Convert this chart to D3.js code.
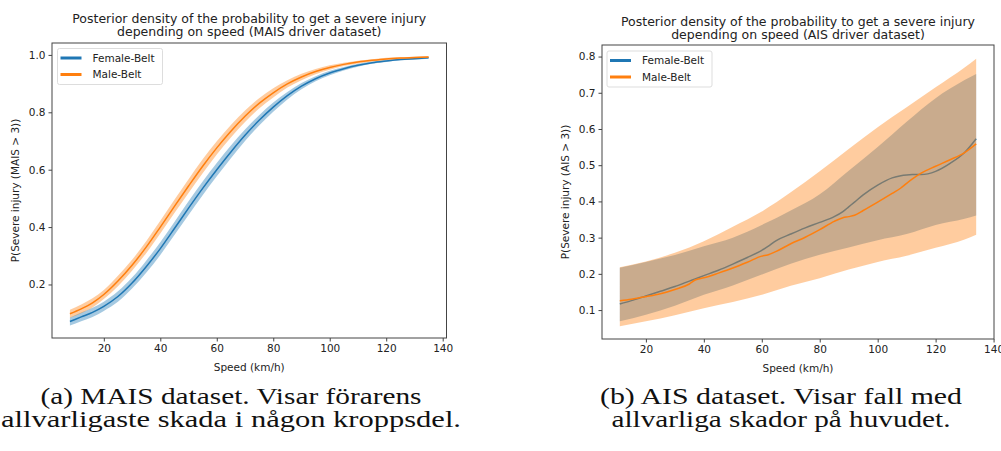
<!DOCTYPE html>
<html>
<head>
<meta charset="utf-8">
<script src="https://cdn.jsdelivr.net/npm/d3@7"></script>
<style>
    body { margin: 0; background: #fff; }
    svg { display: block; font-family: 'DejaVu Sans', sans-serif; }
    .caption { font-family: 'Liberation Serif', 'DejaVu Serif', serif; }
</style>
</head>
<body>
<svg width="1001" height="451"></svg>
<script>
// (a) MAIS dataset
const maisSpeed = [8, 12, 16, 20, 25, 30, 35, 40, 45, 50, 55, 60, 65, 70, 75, 80, 85, 90, 95, 100, 105, 110, 115, 120, 125, 130, 135]
const femaleMais = [0.071, 0.087, 0.103, 0.124, 0.158, 0.205, 0.262, 0.325, 0.395, 0.466, 0.535, 0.600, 0.662, 0.720, 0.772, 0.818, 0.858, 0.891, 0.917, 0.937, 0.952, 0.964, 0.973, 0.979, 0.984, 0.987, 0.990]
const maleMais = [0.098, 0.115, 0.136, 0.165, 0.212, 0.267, 0.330, 0.400, 0.472, 0.543, 0.612, 0.676, 0.734, 0.786, 0.831, 0.868, 0.899, 0.923, 0.942, 0.956, 0.967, 0.975, 0.981, 0.986, 0.989, 0.991, 0.993]
const maisSpread = [0.014, 0.015, 0.016, 0.016, 0.018, 0.019, 0.021, 0.022, 0.023, 0.024, 0.024, 0.023, 0.022, 0.020, 0.018, 0.016, 0.013, 0.011, 0.009, 0.008, 0.006, 0.005, 0.004, 0.004, 0.003, 0.003, 0.003]

// (b) AIS dataset
const aisSpeed = [11, 15, 20, 25, 30, 35, 37, 40, 45, 50, 55, 60, 62, 65, 70, 75, 80, 85, 88, 90, 92, 95, 100, 105, 108, 110, 112, 115, 120, 125, 130, 134]
const femaleAis = [0.117, 0.126, 0.139, 0.152, 0.165, 0.180, 0.186, 0.195, 0.210, 0.227, 0.245, 0.265, 0.275, 0.292, 0.310, 0.327, 0.342, 0.358, 0.372, 0.385, 0.398, 0.418, 0.445, 0.465, 0.471, 0.473, 0.474, 0.474, 0.483, 0.505, 0.535, 0.573]
const maleAis = [0.126, 0.130, 0.137, 0.145, 0.157, 0.172, 0.183, 0.189, 0.202, 0.216, 0.232, 0.249, 0.252, 0.262, 0.283, 0.301, 0.322, 0.345, 0.355, 0.358, 0.362, 0.375, 0.398, 0.422, 0.437, 0.450, 0.462, 0.478, 0.497, 0.515, 0.535, 0.559]
const aisBandSpeed = [11, 20, 30, 40, 50, 60, 70, 80, 90, 100, 110, 120, 130, 134]
const femaleAisLow = [0.069, 0.087, 0.112, 0.142, 0.168, 0.198, 0.228, 0.253, 0.273, 0.293, 0.310, 0.335, 0.352, 0.361]
const femaleAisHigh = [0.217, 0.233, 0.252, 0.276, 0.300, 0.335, 0.375, 0.420, 0.485, 0.550, 0.620, 0.685, 0.735, 0.752]
const maleAisLow = [0.055, 0.069, 0.086, 0.105, 0.122, 0.142, 0.167, 0.188, 0.212, 0.233, 0.250, 0.272, 0.295, 0.308]
const maleAisHigh = [0.218, 0.234, 0.258, 0.290, 0.330, 0.372, 0.425, 0.483, 0.545, 0.605, 0.660, 0.715, 0.770, 0.794]

const seriesNames = ['Female-Belt', 'Male-Belt']
const xTicks = [20, 40, 60, 80, 100, 120, 140]
const maisYTicks = [0.2, 0.4, 0.6, 0.8, 1.0]
const aisYTicks = [0.1, 0.2, 0.3, 0.4, 0.5, 0.6, 0.7, 0.8]

const colors = d3.scaleOrdinal().domain(seriesNames).range(['#1f77b4', '#ff7f0e'])
const svg = d3.select('svg')

const panels = [
    {
        title: ['Posterior density of the probability to get a severe injury', 'depending on speed (MAIS driver dataset)'],
        yLabel: 'P(Severe injury (MAIS > 3))',
        xDomain: [1.65, 141.35], xRange: [52, 446.5],
        yDomain: [0.0135, 1.0415], yRange: [338, 43],
        yTicks: maisYTicks,
        yLabelX: 15,
        titleY: 23,
        bands: [
            { name: 'Female-Belt', speed: maisSpeed, low: femaleMais.map((d, i) => d - maisSpread[i]), high: femaleMais.map((d, i) => d + maisSpread[i]) },
            { name: 'Male-Belt', speed: maisSpeed, low: maleMais.map((d, i) => d - maisSpread[i]), high: maleMais.map((d, i) => d + maisSpread[i]) },
        ],
        lines: [
            { name: 'Female-Belt', speed: maisSpeed, values: femaleMais },
            { name: 'Male-Belt', speed: maisSpeed, values: maleMais },
        ],
        legend: { x: 57.5, y: 48.5, w: 105, h: 36 },
        caption: ['(a) MAIS dataset. Visar förarens', 'allvarligaste skada i någon kroppsdel.'],
        captionWidth: [381, 460],
        captionX: 231,
    },
    {
        title: ['Posterior density of the probability to get a severe injury', 'depending on speed (AIS driver dataset)'],
        yLabel: 'P(Severe injury (AIS > 3))',
        xDomain: [4.85, 140.15], xRange: [602, 994],
        yDomain: [0.0201, 0.8319], yRange: [339, 45],
        yTicks: aisYTicks,
        yLabelX: 565,
        titleY: 26,
        bands: [
            { name: 'Female-Belt', speed: aisBandSpeed, low: femaleAisLow, high: femaleAisHigh },
            { name: 'Male-Belt', speed: aisBandSpeed, low: maleAisLow, high: maleAisHigh },
        ],
        lines: [
            { name: 'Female-Belt', speed: aisSpeed, values: femaleAis },
            { name: 'Male-Belt', speed: aisSpeed, values: maleAis },
        ],
        legend: { x: 607, y: 51, w: 105, h: 36 },
        caption: ['(b) AIS dataset. Visar fall med', 'allvarliga skador på huvudet.'],
        captionWidth: [362, 339],
        captionX: 781,
    },
]

function drawPanel(p) {
    const x = d3.scaleLinear().domain(p.xDomain).range(p.xRange)
    const y = d3.scaleLinear().domain(p.yDomain).range(p.yRange)
    const g = svg.append('g')

    const area = d3.area().curve(d3.curveMonotoneX)
        .x((d) => x(d.s)).y0((d) => y(d.lo)).y1((d) => y(d.hi))
    const line = d3.line().curve(d3.curveMonotoneX)
        .x((d) => x(d.s)).y((d) => y(d.v))

    // female band + line first, male on top
    p.bands.forEach((b, k) => {
        g.append('path')
            .attr('d', area(b.speed.map((s, i) => ({ s, lo: b.low[i], hi: b.high[i] }))))
            .style('fill', colors(b.name))
            .style('fill-opacity', 0.4)
        const l = p.lines[k]
        g.append('path')
            .attr('d', line(l.speed.map((s, i) => ({ s, v: l.values[i] }))))
            .style('fill', 'none')
            .style('stroke', colors(l.name))
            .style('stroke-width', 1.5)
    })

    // frame
    g.append('rect')
        .attr('x', p.xRange[0]).attr('y', p.yRange[1])
        .attr('width', p.xRange[1] - p.xRange[0]).attr('height', p.yRange[0] - p.yRange[1])
        .style('fill', 'none').style('stroke', '#444').style('stroke-width', 1)

    const xAxis = g.append('g')
        .attr('transform', `translate(0, ${p.yRange[0]})`)
        .call(d3.axisBottom(x).tickValues(xTicks).tickSizeOuter(0).tickSize(3.5).tickPadding(3))
    const yAxis = g.append('g')
        .attr('transform', `translate(${p.xRange[0]}, 0)`)
        .call(d3.axisLeft(y).tickValues(p.yTicks).tickFormat(d3.format('.1f')).tickSizeOuter(0).tickSize(3.5).tickPadding(3))
    ;[xAxis, yAxis].forEach((a) => {
        a.select('.domain').remove()
        a.selectAll('line').style('stroke', '#444')
        a.selectAll('text').style('font-size', '10.5px').style('fill', '#222').style('font-family', 'DejaVu Sans')
    })

    const cx = (p.xRange[0] + p.xRange[1]) / 2
    g.append('text')
        .attr('x', cx).attr('y', p.yRange[0] + 33)
        .style('text-anchor', 'middle').style('font-size', '10.5px').style('fill', '#222')
        .text('Speed (km/h)')
    g.append('text')
        .attr('transform', `translate(${p.yLabelX}, ${(p.yRange[0] + p.yRange[1]) / 2}) rotate(-90)`)
        .attr('dy', '0.35em')
        .style('text-anchor', 'middle').style('font-size', '10.5px').style('fill', '#222')
        .text(p.yLabel)

    g.selectAll('text.title')
        .data(p.title)
        .enter()
        .append('text')
        .attr('class', 'title')
        .attr('x', cx)
        .attr('y', (d, i) => p.titleY + i * 13)
        .style('text-anchor', 'middle').style('font-size', '12.5px').style('fill', '#222')
        .text((d) => d)

    // legend
    const lg = g.append('g').attr('transform', `translate(${p.legend.x}, ${p.legend.y})`)
    lg.append('rect')
        .attr('width', p.legend.w).attr('height', p.legend.h)
        .attr('rx', 2)
        .style('fill', '#fff').style('fill-opacity', 0.8)
        .style('stroke', '#ddd').style('stroke-width', 1)
    const items = lg.selectAll('g.legend-item')
        .data(seriesNames)
        .enter()
        .append('g')
        .attr('class', 'legend-item')
        .attr('transform', (d, i) => `translate(0, ${9.5 + i * 16.5})`)
    items.append('line')
        .attr('x1', 3).attr('x2', 24)
        .style('stroke', (d) => colors(d)).style('stroke-width', 3)
    items.append('text')
        .attr('x', 35).attr('dy', '0.35em')
        .style('font-size', '10.5px').style('fill', '#222')
        .text((d) => d)

    // caption (LaTeX-style, stretched to the printed width)
    svg.selectAll(null)
        .data(p.caption)
        .enter()
        .append('text')
        .attr('class', 'caption')
        .attr('x', p.captionX)
        .attr('y', (d, i) => 404 + i * 22.6)
        .attr('textLength', (d, i) => p.captionWidth[i])
        .attr('lengthAdjust', 'spacingAndGlyphs')
        .style('text-anchor', 'middle').style('font-size', '23px').style('fill', '#111')
        .text((d) => d)
}

panels.forEach(drawPanel)
</script>
</body>
</html>
